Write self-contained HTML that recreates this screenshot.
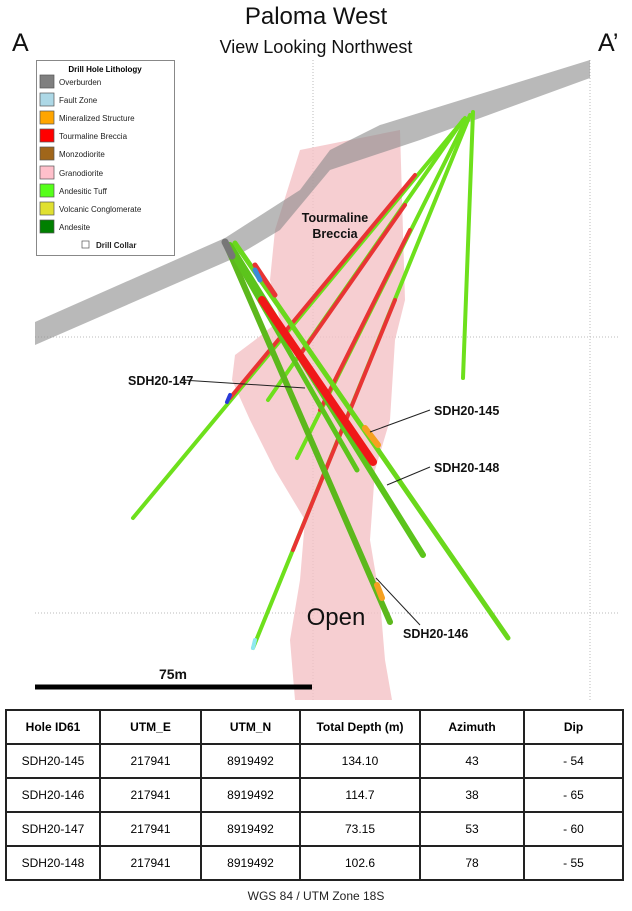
<!DOCTYPE html>
<html><head><meta charset="utf-8"><style>
body{margin:0;background:#fff;width:632px;height:911px;overflow:hidden;font-family:"Liberation Sans",sans-serif;}
svg{position:absolute;left:0;top:0}
table{position:absolute;left:5px;top:709px;width:619px;border-collapse:collapse;font-size:12px;}
td{border:2px solid #222;text-align:center;height:32px;padding:0}
tr:first-child td{font-weight:bold}
.cap{position:absolute;top:889px;width:632px;text-align:center;font-size:12px;color:#222}
</style></head><body>
<svg width="632" height="705" viewBox="0 0 632 705">
<g stroke="#bbb" stroke-dasharray="1,2" stroke-width="1">
<line x1="313" y1="60" x2="313" y2="700"/><line x1="590" y1="60" x2="590" y2="700"/>
<line x1="35" y1="337" x2="620" y2="337"/><line x1="35" y1="613" x2="620" y2="613"/>
</g>
<path d="M300,150 L400,130 L405,300 L395,340 L390,420 L375,470 L370,540 L380,600 L385,660 L392,700 L295,700 L290,640 L300,580 L305,520 L275,470 L250,420 L232,380 L235,355 L255,340 L280,320 L270,280 L275,230 L300,150Z" fill="#f4c2c6" opacity="0.8"/>
<path d="M35,322 L225,238 L300,190 L330,150 L380,125 L590,60 L590,78 L420,140 L330,170 L280,230 L230,260 L35,345Z" fill="#8a8a8a" opacity="0.6"/>
<g stroke-linecap="round">
<line x1="465" y1="118" x2="133" y2="518" stroke="#6ee01c" stroke-width="4"/>
<line x1="415" y1="175" x2="230" y2="398" stroke="#e83434" stroke-width="4"/>
<line x1="463" y1="120" x2="268" y2="400" stroke="#6ee01c" stroke-width="4"/>
<line x1="405" y1="205" x2="300" y2="355" stroke="#e83434" stroke-width="4"/>
<line x1="466" y1="120" x2="297" y2="458" stroke="#6ee01c" stroke-width="4"/>
<line x1="410" y1="230" x2="320" y2="410" stroke="#e83434" stroke-width="4"/>
<line x1="470" y1="115" x2="253" y2="648" stroke="#6ee01c" stroke-width="4"/>
<line x1="395" y1="300" x2="293" y2="550" stroke="#e83434" stroke-width="4"/>
<line x1="473" y1="112" x2="463" y2="378" stroke="#6ee01c" stroke-width="4"/>
<line x1="255" y1="640" x2="253" y2="648" stroke="#8ee8f0" stroke-width="4"/>
<line x1="230" y1="395" x2="227" y2="402" stroke="#2a3ad8" stroke-width="4"/>
<line x1="225" y1="242" x2="390" y2="622" stroke="#5cb81c" stroke-width="6"/>
<line x1="228" y1="245" x2="357" y2="470" stroke="#5cc41c" stroke-width="5"/>
<line x1="230" y1="245" x2="423" y2="555" stroke="#5cc41c" stroke-width="6"/>
<line x1="235" y1="243" x2="508" y2="638" stroke="#6ad81c" stroke-width="5"/>
<line x1="262" y1="300" x2="373" y2="462" stroke="#f01818" stroke-width="8"/>
<line x1="255" y1="265" x2="275" y2="295" stroke="#e83434" stroke-width="5"/>
<line x1="255" y1="270" x2="260" y2="280" stroke="#3a8ad8" stroke-width="5"/>
<line x1="365" y1="428" x2="378" y2="445" stroke="#f5a020" stroke-width="6"/>
<line x1="377" y1="585" x2="382" y2="598" stroke="#f5a020" stroke-width="6"/>
<line x1="225" y1="242" x2="232" y2="256" stroke="#777" stroke-width="7"/>
</g>
<g stroke="#222" stroke-width="1">
<line x1="182" y1="380" x2="305" y2="388"/><line x1="370" y1="432" x2="430" y2="410"/>
<line x1="387" y1="485" x2="430" y2="467"/><line x1="376" y1="578" x2="420" y2="625"/>
</g>
<g font-family="Liberation Sans,sans-serif" font-weight="bold" font-size="12.5" fill="#111">
<text x="128" y="385">SDH20-147</text><text x="434" y="415">SDH20-145</text>
<text x="434" y="472">SDH20-148</text><text x="403" y="638">SDH20-146</text>
<text x="335" y="222" text-anchor="middle">Tourmaline</text><text x="335" y="238" text-anchor="middle">Breccia</text>
<text x="173" y="679" text-anchor="middle" font-size="14">75m</text>
</g>
<text x="336" y="625" text-anchor="middle" font-size="24" fill="#111">Open</text>
<line x1="35" y1="687" x2="312" y2="687" stroke="#000" stroke-width="5"/>
<text x="316" y="24" text-anchor="middle" font-size="24" fill="#111">Paloma West</text>
<text x="316" y="53" text-anchor="middle" font-size="18" fill="#111">View Looking Northwest</text>
<text x="12" y="51" font-size="25" fill="#111">A</text>
<text x="598" y="51" font-size="25" fill="#111">A’</text>
<rect x="36.5" y="60.5" width="138" height="195" fill="#fff" stroke="#888"/>
<text x="105" y="72" text-anchor="middle" font-size="8" font-weight="bold">Drill Hole Lithology</text>
<g stroke="#555" stroke-width="0.7">
<rect x="40" y="75" width="14" height="13" fill="#7f7f7f"/>
<rect x="40" y="93" width="14" height="13" fill="#add8e6"/>
<rect x="40" y="111" width="14" height="13" fill="#ffa500"/>
<rect x="40" y="129" width="14" height="13" fill="#ff0000"/>
<rect x="40" y="147" width="14" height="13" fill="#a0661a"/>
<rect x="40" y="166" width="14" height="13" fill="#ffc0cb"/>
<rect x="40" y="184" width="14" height="13" fill="#55ff1a"/>
<rect x="40" y="202" width="14" height="13" fill="#e0e030"/>
<rect x="40" y="220" width="14" height="13" fill="#008000"/>
<rect x="82" y="241" width="7" height="7" fill="#fff"/>
</g>
<g font-size="8" fill="#222">
<text x="59" y="85">Overburden</text><text x="59" y="103">Fault Zone</text>
<text x="59" y="121">Mineralized Structure</text><text x="59" y="139">Tourmaline Breccia</text>
<text x="59" y="157">Monzodiorite</text><text x="59" y="176">Granodiorite</text>
<text x="59" y="194">Andesitic Tuff</text><text x="59" y="212">Volcanic Conglomerate</text>
<text x="59" y="230">Andesite</text><text x="96" y="248" font-weight="bold">Drill Collar</text>
</g>
</svg>
<table>
<tr><td style="width:92px">Hole ID61</td><td style="width:99px">UTM_E</td><td style="width:97px">UTM_N</td><td style="width:118px">Total Depth (m)</td><td style="width:102px">Azimuth</td><td>Dip</td></tr>
<tr><td>SDH20-145</td><td>217941</td><td>8919492</td><td>134.10</td><td>43</td><td>- 54</td></tr>
<tr><td>SDH20-146</td><td>217941</td><td>8919492</td><td>114.7</td><td>38</td><td>- 65</td></tr>
<tr><td>SDH20-147</td><td>217941</td><td>8919492</td><td>73.15</td><td>53</td><td>- 60</td></tr>
<tr><td>SDH20-148</td><td>217941</td><td>8919492</td><td>102.6</td><td>78</td><td>- 55</td></tr>
</table>
<div class="cap">WGS 84 / UTM Zone 18S</div>
</body></html>
